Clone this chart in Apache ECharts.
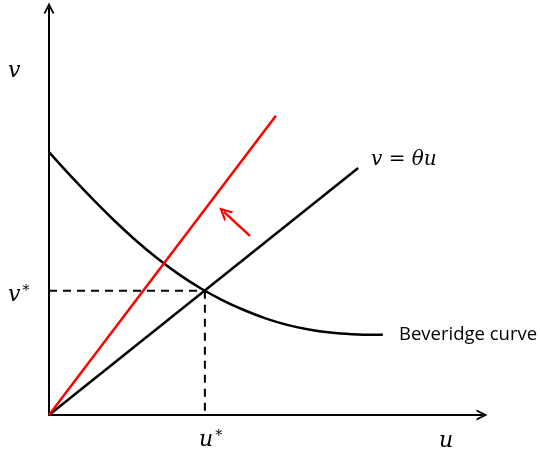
<!DOCTYPE html>
<html>
<head>
<meta charset="utf-8">
<script src="https://cdn.jsdelivr.net/npm/echarts@6/dist/echarts.min.js"></script>
<style>
  html, body { margin: 0; padding: 0; background: #fff; }
  #main { width: 540px; height: 449px; }
</style>
</head>
<body>
<div id="main"></div>
<script>
// 数据（坐标单位：u 与 v，0~10）
var beveridgeU = [0, 0.5, 1.0, 1.5, 2.0, 2.5, 3.0, 3.5, 4.0, 4.5, 5.0, 5.5, 6.0, 6.5, 7.0, 7.5, 7.71];
var beveridgeV = [6.46, 5.875, 5.315, 4.785, 4.295, 3.85, 3.455, 3.115, 2.825, 2.58, 2.375, 2.215, 2.10, 2.025, 1.985, 1.97, 1.97];
var thetaLine = [[0, 0], [7.14, 6.07]];     // v = θu
var redLine = [[0, 0], [5.24, 7.35]];       // 新的 θ 线
var uStar = 3.60;
var vStar = 3.05;
var shiftArrow = [[4.64, 4.40], [4.04, 4.99]];

// 空心箭头
var chevron = 'path://M0,10 L5,0 L10,10 L8.2,10 L5,3.6 L1.8,10 Z';

var chart = echarts.init(document.getElementById('main'));

var curveData = beveridgeU.map(function (u, i) { return [u, beveridgeV[i]]; });

var mathFont = 'DejaVu Serif';

var option = {
  animation: false,
  grid: { left: 49, top: 8, width: 433, height: 407 },
  xAxis: {
    type: 'value', min: 0, max: 10,
    axisLine: {
      show: true, onZero: false,
      symbol: ['none', chevron], symbolSize: [11, 12],
      lineStyle: { color: '#000', width: 2 }
    },
    axisTick: { show: false }, axisLabel: { show: false }, splitLine: { show: false }
  },
  yAxis: {
    type: 'value', min: 0, max: 10,
    axisLine: {
      show: true, onZero: false,
      symbol: ['none', chevron], symbolSize: [11, 12],
      lineStyle: { color: '#000', width: 2 }
    },
    axisTick: { show: false }, axisLabel: { show: false }, splitLine: { show: false }
  },
  series: [
    {
      name: 'Beveridge', type: 'line', smooth: 0.3, showSymbol: false,
      lineStyle: { color: '#000', width: 2.5 },
      data: curveData
    },
    {
      name: 'theta', type: 'line', showSymbol: false,
      lineStyle: { color: '#000', width: 2.5 },
      data: thetaLine
    },
    {
      name: 'red', type: 'line', showSymbol: false,
      lineStyle: { color: '#ff0000', width: 2.5 },
      data: redLine
    },
    {
      name: 'dashH', type: 'line', showSymbol: false,
      lineStyle: { color: '#000', width: 2, type: [8, 6] },
      data: [[0, vStar], [uStar, vStar]]
    },
    {
      name: 'dashV', type: 'line', showSymbol: false,
      lineStyle: { color: '#000', width: 2, type: [8, 6] },
      data: [[uStar, vStar], [uStar, 0]]
    },
    {
      name: 'arrow', type: 'lines', coordinateSystem: 'cartesian2d',
      symbol: ['none', chevron], symbolSize: [12, 13],
      lineStyle: { color: '#ff0000', width: 2.5, opacity: 1, curveness: 0 },
      data: [{ coords: shiftArrow }]
    }
  ],
  graphic: [
    { type: 'text', left: 8, top: 60, style: { text: 'v', font: 'italic 22px "' + mathFont + '"', fill: '#000' } },
    {
      type: 'text', left: 8, top: 284,
      style: {
        text: '{m|v}{s|*}',
        rich: {
          m: { font: 'italic 22px "' + mathFont + '"', fill: '#000' },
          s: { font: '14px "' + mathFont + '"', fill: '#000', verticalAlign: 'top', padding: [0, 0, 8, 2] }
        }
      }
    },
    {
      type: 'text', left: 199, top: 429,
      style: {
        text: '{m|u}{s|*}',
        rich: {
          m: { font: 'italic 22px "' + mathFont + '"', fill: '#000' },
          s: { font: '14px "' + mathFont + '"', fill: '#000', verticalAlign: 'top', padding: [0, 0, 8, 2] }
        }
      }
    },
    { type: 'text', left: 439, top: 430, style: { text: 'u', font: 'italic 22px "' + mathFont + '"', fill: '#000' } },
    { type: 'text', left: 371, top: 150, style: { text: 'v = θu', font: 'italic 20px "' + mathFont + '"', fill: '#000' } },
    { type: 'text', left: 399, top: 325, style: { text: 'Beveridge curve', font: '18.5px "Open Sans"', fill: '#000' } }
  ]
};

chart.setOption(option);
</script>
</body>
</html>
